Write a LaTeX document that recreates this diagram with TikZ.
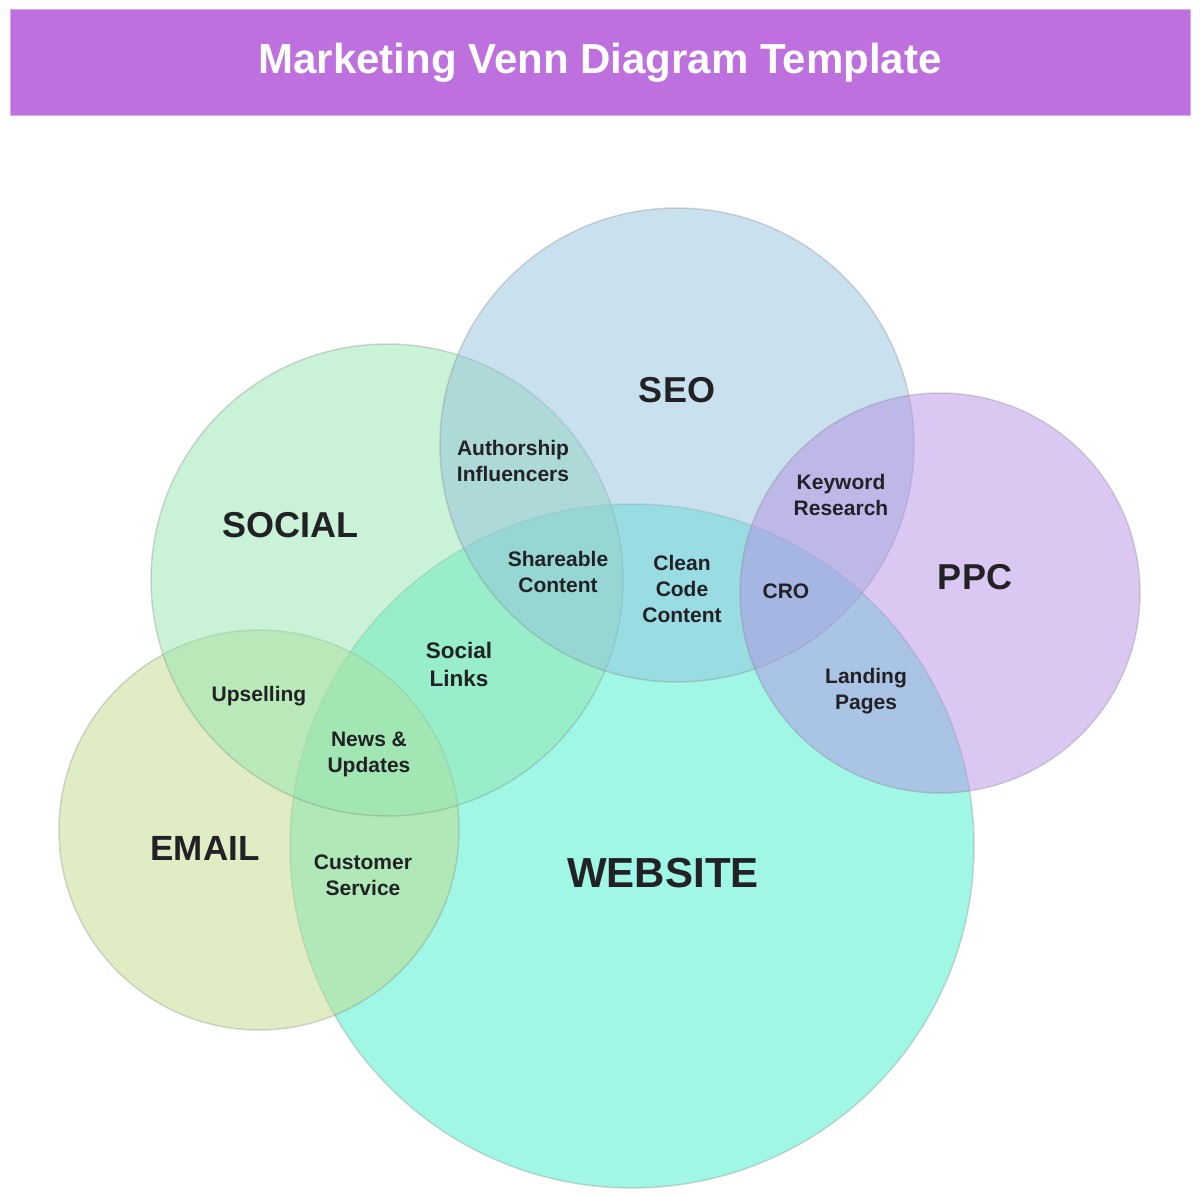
\documentclass[tikz,border=0pt]{standalone}
\usepackage{fontspec}
\setmainfont{Liberation Sans}
\definecolor{titlebar}{RGB}{190,112,222}
\definecolor{ink}{RGB}{34,34,38}
\definecolor{webfill}{RGB}{65,239,205}
\definecolor{emailfill}{RGB}{193,219,137}
\definecolor{socialfill}{RGB}{147,229,175}
\definecolor{seofill}{RGB}{147,193,221}
\definecolor{ppcfill}{RGB}{181,145,229}
\tikzset{
  set/.style={fill opacity=0.5, draw=gray, draw opacity=0.3, line width=1.5pt},
  setname/.style={font=\bfseries\fontsize{36}{40}\selectfont, text=ink, inner sep=0pt},
  overlap/.style={font=\bfseries\fontsize{21}{26}\selectfont, text=ink, align=center, inner sep=0pt},
}
\begin{document}
\begin{tikzpicture}[x=1pt, y=-1pt]
    \useasboundingbox (0,0) rectangle (1200,1198);

    % Title
    \node[fill=titlebar, draw=titlebar!60!white, line width=1pt, minimum width=1180pt, minimum height=106pt,
          text=white, font=\bfseries\fontsize{42}{46}\selectfont] (title) at (600,63) {Marketing Venn Diagram Template};

    % Sets
    \coordinate (website) at (632,846);
    \coordinate (email) at (259,830);
    \coordinate (social) at (387,580);
    \coordinate (seo) at (677,445);
    \coordinate (ppc) at (940,593);
    \filldraw[set, fill=webfill] (website) circle[radius=342pt];
    \filldraw[set, fill=emailfill] (email) circle[radius=200pt];
    \filldraw[set, fill=socialfill] (social) circle[radius=236pt];
    \filldraw[set, fill=seofill] (seo) circle[radius=237pt];
    \filldraw[set, fill=ppcfill] (ppc) circle[radius=200pt];

    % Set names
    \node[setname] (seoname) at (677,390) {SEO};
    \node[setname] (socialname) at (290,525) {SOCIAL};
    \node[setname] (ppcname) at (975,577) {PPC};
    \node[setname, font=\bfseries\fontsize{35}{40}\selectfont] (emailname) at (205,848) {EMAIL};
    \node[setname, font=\bfseries\fontsize{42}{46}\selectfont] (websitename) at (663,873) {WEBSITE};

    % Overlaps
    \node[overlap] (authorship) at (513,461) {Authorship\\Influencers};
    \node[overlap] (keyword) at (841,495) {Keyword\\Research};
    \node[overlap] (shareable) at (558,572) {Shareable\\Content};
    \node[overlap] (cleancode) at (682,589) {Clean\\Code\\Content};
    \node[overlap] (cro) at (786,591) {CRO};
    \node[overlap, font=\bfseries\fontsize{22.5}{28}\selectfont] (sociallinks) at (459,664) {Social\\Links};
    \node[overlap] (upselling) at (259,696) {Upselling};
    \node[overlap] (news) at (369,754) {News \&\\Updates};
    \node[overlap] (customer) at (363,875) {Customer\\Service};
    \node[overlap] (landing) at (866,691) {Landing\\Pages};
\end{tikzpicture}
\end{document}
